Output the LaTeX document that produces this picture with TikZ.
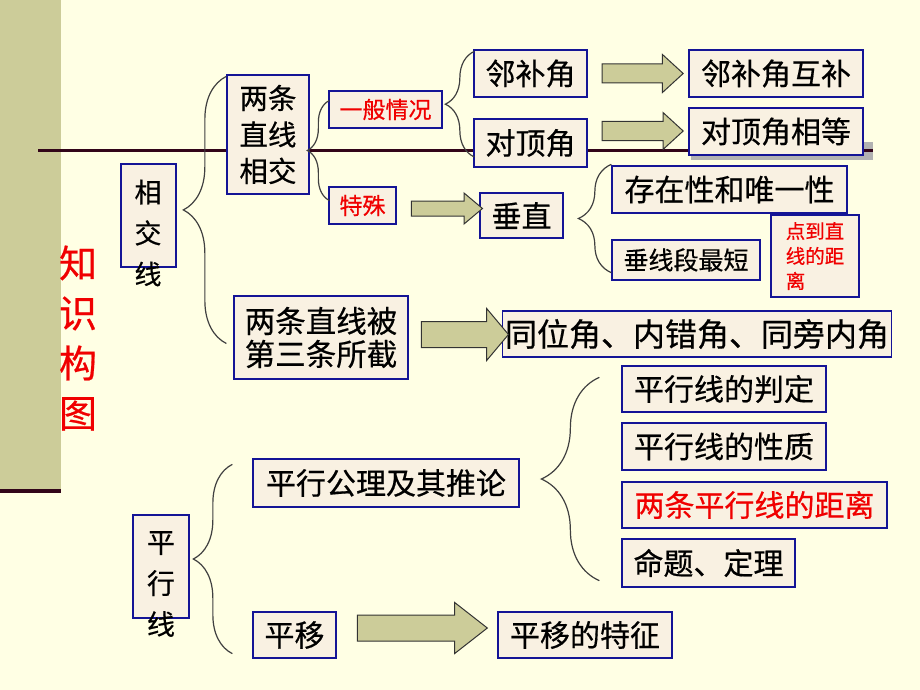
\documentclass[tikz,border=0pt]{standalone}
\usepackage{fontspec}
\setmainfont{Noto Sans CJK SC}[FakeBold=0.5]
\usetikzlibrary{shapes.arrows, decorations.pathreplacing, calc}

\definecolor{pagebg}{RGB}{255, 255, 228}
\definecolor{sidebar}{RGB}{204, 204, 153}
\definecolor{darkrule}{RGB}{50, 5, 25}
\definecolor{boxblue}{RGB}{20, 20, 150}
\definecolor{boxfill}{RGB}{249, 241, 226}
\definecolor{arrowfill}{RGB}{204, 204, 153}
\definecolor{keyred}{RGB}{240, 0, 0}

\tikzset{
  kbox/.style={draw=boxblue, fill=boxfill, line width=1.3pt, inner sep=0pt, align=center},
  bigfont/.style={font=\fontsize{30}{33}\selectfont},
  midfont/.style={font=\fontsize{25}{28}\selectfont},
  redfont/.style={font=\fontsize{23}{26}\selectfont, text=keyred},
  vtext/.style={font=\fontsize{27}{41}\selectfont, align=center, inner sep=0pt},
  fatarrow/.style={single arrow, draw=black!80, fill=arrowfill, line width=1pt, inner xsep=0pt},
  brc/.style={draw=black!75, line width=1.2pt, decorate, decoration={brace, amplitude=#1}},
}

\begin{document}
\begin{tikzpicture}[x=1pt, y=-1pt]
  % Page
  \fill[pagebg] (0,0) rectangle (920,690);
  \fill[sidebar] (0,0) rectangle (61,489);
  \fill[darkrule] (0,489) rectangle (61,493);
  \fill[black!30] (691,142) rectangle (873,160);
  \draw[darkrule, line width=3pt] (38,150) -- (873,150);

  % Title
  \node[font=\fontsize{38}{50}\selectfont, text=keyred, align=center, inner sep=0pt] (title) at (78,338) {知\\识\\构\\图};

  % Intersecting lines
  \node[kbox, minimum width=55, minimum height=103] (xjx) at (148.5,215.5) {};
  \node[vtext] (xjx-t) at (148,233) {相\\交\\线};

  \node[kbox, minimum width=82, minimum height=119, font=\fontsize{28.5}{36.5}\selectfont] (ltzx) at (268,134.5) {两条\\直线\\相交};
  \node[kbox, redfont, minimum width=113, minimum height=37] (ybqk) at (385.5,109.5) {一般情况};
  \node[kbox, redfont, minimum width=67, minimum height=37] (ts) at (362.5,205.5) {特殊};

  \node[kbox, bigfont, minimum width=113, minimum height=47] (lbj) at (530.5,73.5) {邻补角};
  \node[kbox, bigfont, minimum width=113, minimum height=48] (ddj) at (530.5,143) {对顶角};
  \node[kbox, bigfont, minimum width=174, minimum height=47] (lbjhb) at (776,73.5) {邻补角互补};
  \node[kbox, bigfont, minimum width=174, minimum height=47] (ddjxd) at (776,131.5) {对顶角相等};

  \node[kbox, bigfont, minimum width=83, minimum height=45] (cz) at (521.5,215.5) {垂直};
  \node[kbox, bigfont, minimum width=235, minimum height=47] (czwy) at (729.5,189.5) {存在性和唯一性};
  \node[kbox, midfont, minimum width=148, minimum height=40] (cxd) at (686,260) {垂线段最短};
  \node[kbox, font=\fontsize{19.5}{25}\selectfont, text=keyred, align=left, minimum width=88, minimum height=82] (ddzx) at (815,256) {点到直\\线的距\\离};

  \node[kbox, font=\fontsize{30.5}{33}\selectfont, minimum width=174, minimum height=83] (ltzb) at (321,337.5) {两条直线被\\第三条所截};
  \node[kbox, font=\fontsize{32}{35}\selectfont, minimum width=389, minimum height=46] (twj) at (697,334) {同位角、内错角、同旁内角};

  % Parallel lines
  \node[kbox, minimum width=56, minimum height=103] (pxx) at (161,566.5) {};
  \node[vtext, font=\fontsize{28}{41}\selectfont] (pxx-t) at (161,584) {平\\行\\线};

  \node[kbox, bigfont, minimum width=266, minimum height=48] (pxgl) at (386,483) {平行公理及其推论};
  \node[kbox, bigfont, minimum width=83, minimum height=46] (py) at (294.5,635) {平移};
  \node[kbox, bigfont, minimum width=174, minimum height=46] (pytz) at (585,635) {平移的特征};

  \node[kbox, bigfont, minimum width=204, minimum height=46] (pxpd) at (724,389) {平行线的判定};
  \node[kbox, bigfont, minimum width=204, minimum height=47] (pxxz) at (724,446.5) {平行线的性质};
  \node[kbox, bigfont, text=keyred, minimum width=265, minimum height=46] (lpjl) at (754.5,505) {两条平行线的距离};
  \node[kbox, bigfont, minimum width=173, minimum height=48] (mtdl) at (708.5,563) {命题、定理};

  % Block arrows
  \node[fatarrow, inner ysep=9, minimum height=81, single arrow head extend=9.5, single arrow tip angle=85] (a-lbj) at (637.5,73.5) {};
  \node[fatarrow, inner ysep=9, minimum height=81, single arrow head extend=9, single arrow tip angle=85] (a-ddj) at (637.5,131) {};
  \node[fatarrow, inner ysep=7, minimum height=71, single arrow head extend=8, single arrow tip angle=80] (a-ts) at (442.5,208.5) {};
  \node[fatarrow, inner ysep=12.5, minimum height=87, single arrow head extend=13, single arrow tip angle=100] (a-ltzb) at (459.5,334.5) {};
  \node[fatarrow, inner ysep=12.5, minimum height=130, single arrow head extend=12.5, single arrow tip angle=76] (a-py) at (414,628) {};

  % Braces
  \draw[brc=43] ($(ltzx.west |- ltzb.center)+(0,6)$) -- ($(ltzx.north west)+(0,2)$);
  \draw[brc=22] ($(ts.west)+(1,-5)$) -- ($(ybqk.west)+(1,-9)$);
  \draw[brc=29] ($(ddj.west)+(1,14)$) -- ($(lbj.north west)+(1,2)$);
  \draw[brc=33] ($(cxd.south west)+(0,-8)$) -- ($(czwy.north west)+(0,-1)$);
  \draw[brc=39] ($(py.south west)+(-20,-5)$) -- ($(pxgl.north west)+(-20,6)$);
  \draw[brc=58] ($(mtdl.south west)+(-22,-7)$) -- ($(pxpd.north west)+(-22,12)$);
\end{tikzpicture}
\end{document}
